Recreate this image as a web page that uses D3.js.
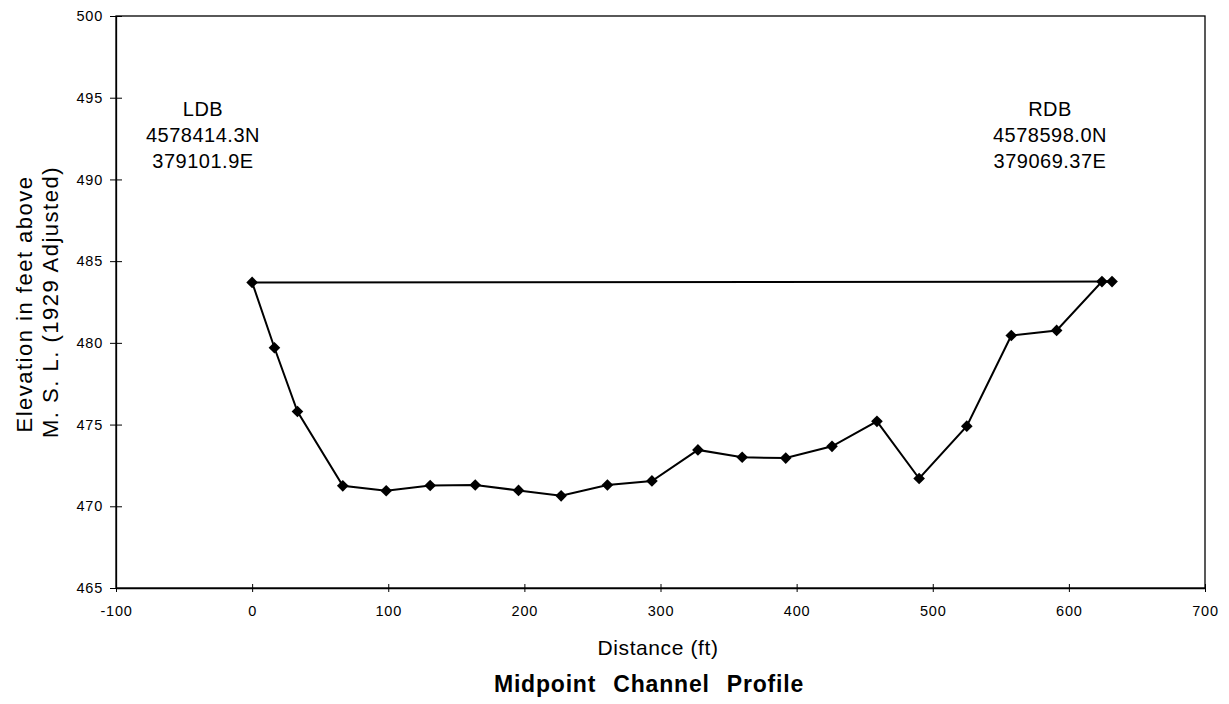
<!DOCTYPE html>
<html>
<head>
<meta charset="utf-8">
<script src="https://cdn.jsdelivr.net/npm/d3@7"></script>
<style>
  body { margin: 0; background: #fff; }
  text { font-family: Arial, "Liberation Sans", sans-serif; fill: #000; }
</style>
</head>
<body>
<div id="chart"></div>
<script>
// Channel profile readings (distance ft, elevation ft)
var distances = [0, 16.4, 33.3, 66.6, 98.5, 130.8, 163.9, 195.7, 227, 261, 293.7, 327.5, 360, 392, 426, 459, 490, 525, 557.7, 591, 624.3, 631.7];
var elevations = [483.7, 479.7, 475.8, 471.25, 470.95, 471.27, 471.3, 470.97, 470.64, 471.3, 471.55, 473.45, 473.0, 472.95, 473.67, 475.2, 471.7, 474.9, 480.45, 480.76, 483.75, 483.75];
// water surface line between the banks
var surfaceDist = [0, 631.7];
var surfaceElev = [483.7, 483.75];

var xTicks = [-100, 0, 100, 200, 300, 400, 500, 600, 700];
var yTicks = [465, 470, 475, 480, 485, 490, 495, 500];

var ldbLabel = ["LDB", "4578414.3N", "379101.9E"];
var rdbLabel = ["RDB", "4578598.0N", "379069.37E"];

var margin = { top: 16, right: 24, bottom: 116, left: 116 },
    width = 1229 - margin.left - margin.right,
    height = 704 - margin.top - margin.bottom;

var svg = d3.select("#chart")
    .append("svg")
    .attr("width", 1229)
    .attr("height", 704)
    .append("g")
    .attr("transform", "translate(" + margin.left + "," + margin.top + ")");

var x = d3.scaleLinear().domain([-100, 700]).range([0, width]);
var y = d3.scaleLinear().domain([465, 500]).range([height, 0]);

// frame
svg.append("rect")
    .attr("x", 0).attr("y", 0)
    .attr("width", width).attr("height", height)
    .style("fill", "none")
    .style("stroke", "#000")
    .style("stroke-width", 1.3);

// x axis
var xAxis = svg.append("g")
    .attr("transform", "translate(0," + height + ")")
    .call(d3.axisBottom(x).tickValues(xTicks).tickFormat(d => String(d))
        .tickSize(4).tickSizeOuter(0).tickPadding(14));
xAxis.select(".domain").style("stroke", "#000").style("stroke-width", 1.5);
xAxis.selectAll(".tick line").attr("y1", -4).style("stroke", "#000");
xAxis.selectAll("text")
    .style("font-size", "14.5px")
    .style("letter-spacing", "0.8px")
    .style("font-family", "Arial, 'Liberation Sans', sans-serif");

// y axis
var yAxis = svg.append("g")
    .call(d3.axisLeft(y).tickValues(yTicks).tickSize(6).tickSizeOuter(0).tickPadding(7));
yAxis.select(".domain").style("stroke", "#000").style("stroke-width", 1.3);
yAxis.selectAll(".tick line").attr("x1", -6).attr("x2", 6).style("stroke", "#000");
yAxis.selectAll("text")
    .style("font-size", "14.5px")
    .style("letter-spacing", "0.8px")
    .style("font-family", "Arial, 'Liberation Sans', sans-serif");

// water surface
var surface = surfaceDist.map((d, i) => ({ x: d, y: surfaceElev[i] }));
svg.append("path")
    .datum(surface)
    .attr("d", d3.line().x(d => x(d.x)).y(d => y(d.y)))
    .style("fill", "none")
    .style("stroke", "#000")
    .style("stroke-width", 2);

// profile
var profile = distances.map((d, i) => ({ x: d, y: elevations[i] }));
svg.append("path")
    .datum(profile)
    .attr("d", d3.line().x(d => x(d.x)).y(d => y(d.y)))
    .style("fill", "none")
    .style("stroke", "#000")
    .style("stroke-width", 2);

svg.selectAll(".pt")
    .data(profile)
    .enter()
    .append("path")
    .attr("class", "pt")
    .attr("transform", d => "translate(" + x(d.x) + "," + y(d.y) + ") rotate(45)")
    .attr("d", d3.symbol().type(d3.symbolSquare).size(68))
    .style("fill", "#000");

// bank annotations
function bankLabel(lines, cx, top) {
    svg.append("g").selectAll("text")
        .data(lines)
        .enter()
        .append("text")
        .attr("x", cx)
        .attr("y", (d, i) => top + i * 26)
        .attr("text-anchor", "middle")
        .style("font-size", "20px")
        .style("letter-spacing", "0.5px")
        .text(d => d);
}
bankLabel(ldbLabel, 87, 100);
bankLabel(rdbLabel, 934, 100);

// axis titles
var root = d3.select("#chart svg");
root.append("text")
    .attr("transform", "translate(32," + (margin.top + height / 2 + 2) + ") rotate(-90)")
    .attr("text-anchor", "middle")
    .style("font-size", "22px")
    .style("letter-spacing", "1.5px")
    .text("Elevation in feet above");
root.append("text")
    .attr("transform", "translate(58," + (margin.top + height / 2) + ") rotate(-90)")
    .attr("text-anchor", "middle")
    .style("font-size", "22px")
    .style("letter-spacing", "1.5px")
    .text("M. S. L. (1929 Adjusted)");

root.append("text")
    .attr("x", 658)
    .attr("y", 655)
    .attr("text-anchor", "middle")
    .style("font-size", "21px")
    .style("letter-spacing", "0.6px")
    .text("Distance (ft)");

root.append("text")
    .attr("x", 649)
    .attr("y", 692)
    .attr("text-anchor", "middle")
    .style("font-size", "23px")
    .style("font-weight", "bold")
    .style("letter-spacing", "0.8px")
    .style("word-spacing", "10px")
    .text("Midpoint Channel Profile");
</script>
</body>
</html>
